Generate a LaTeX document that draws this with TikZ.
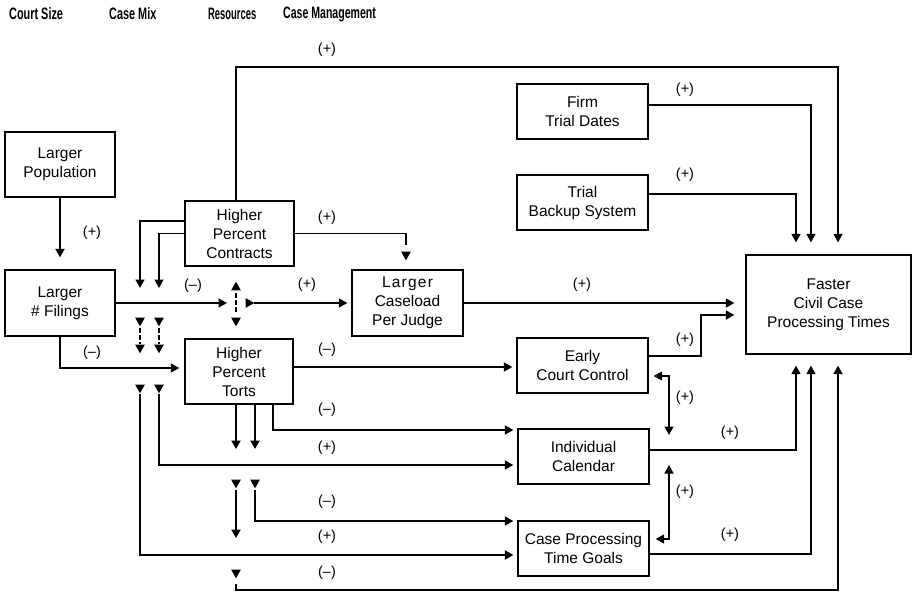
\documentclass[tikz,border=0pt]{standalone}
\usepackage{fontspec}
\setmainfont{Liberation Sans}
\usepackage{graphicx}
\usetikzlibrary{arrows.meta,calc}
\tikzset{
 box/.style={draw, line width=1.3pt, align=center, inner sep=0pt, font=\fontsize{15.5}{19}\selectfont},
 ln/.style={line width=1.5pt},
 thk/.style={line width=2.4pt},
 arr/.style={-{Triangle[length=8.5pt,width=9pt]}},
 darr/.style={{Triangle[length=8.5pt,width=9pt]}-{Triangle[length=8.5pt,width=9pt]}},
 dsh/.style={line width=2pt, dash pattern=on 4.5pt off 2.5pt},
 lbl/.style={font=\fontsize{14.5}{16}\selectfont, inner sep=0pt},
 hdr/.style={font=\fontsize{16.5}{18}\selectfont\bfseries, anchor=west, inner sep=0pt},
 tridown/.pic={\fill (-4.8,-4.3) -- (4.8,-4.3) -- (0,4.3) -- cycle;},
 triup/.pic={\fill (-4.8,4.3) -- (4.8,4.3) -- (0,-4.3) -- cycle;},
 triright/.pic={\fill (-4.3,-4.8) -- (-4.3,4.8) -- (4.3,0) -- cycle;},
}
\begin{document}
\begin{tikzpicture}[x=1pt,y=-1pt]
\path[use as bounding box] (0,0) rectangle (917,592);

% headers
\node[hdr] (h1) at (9,14) {\scalebox{0.66}[1]{Court Size}};
\node[hdr] (h2) at (109,14) {\scalebox{0.66}[1]{Case Mix}};
\node[hdr] (h3) at (208,14) {\scalebox{0.57}[1]{Resources}};
\node[hdr] (h4) at (283,14) {\scalebox{0.64}[1]{Case Management}};

% lanes
\coordinate (xA) at (140,0);
\coordinate (xB) at (159,0);
\coordinate (xC) at (236,0);
\coordinate (xD) at (255,0);
\coordinate (xE) at (273,0);
\coordinate (xF) at (406,0);
\coordinate (xG) at (669,0);
\coordinate (xI) at (796,0);
\coordinate (xJ) at (811,0);
\coordinate (xK) at (838,0);

% boxes
\node[box, minimum width=110pt, minimum height=65pt] (pop) at (60,164.5) {Larger\\Population};
\node[box, minimum width=110pt, minimum height=66pt] (fil) at (60,303) {Larger\\\# Filings};
\node[box, minimum width=109pt, minimum height=65pt] (con) at (239.5,233.5) {Higher\\Percent\\Contracts};
\node[box, minimum width=108pt, minimum height=65pt] (tor) at (239,371.5) {Higher\\Percent\\Torts};
\node[box, minimum width=111pt, minimum height=66pt] (cas) at (407.5,303) {{\addfontfeature{LetterSpace=8}Larger}\\Caseload\\Per Judge};
\node[box, minimum width=131pt, minimum height=55pt] (firm) at (582.5,111.5) {Firm\\Trial Dates};
\node[box, minimum width=131pt, minimum height=55pt] (tbs) at (582.5,202.5) {Trial\\Backup System};
\node[box, minimum width=131pt, minimum height=55pt] (ecc) at (582.5,365.5) {Early\\Court Control};
\node[box, minimum width=131pt, minimum height=55pt] (ic) at (583.5,456.5) {Individual\\Calendar};
\node[box, minimum width=131pt, minimum height=55pt] (cptg) at (583.5,548.5) {Case Processing\\Time Goals};
\node[box, minimum width=165pt, minimum height=99pt] (fast) at (828.5,304.5) {Faster\\Civil Case\\Processing Times};

% population -> filings
\draw[thk,arr,shorten >=12pt] (pop.south) -- (fil.north);
% contracts top -> faster
\draw[ln,arr,shorten >=12pt] (con.north -| xC) |- (838,67) -- (fast.north -| xK);
% firm, backup -> faster
\draw[ln,arr,shorten >=12pt] ([yshift=6.5pt]firm.east) -| (fast.north -| xJ);
\draw[ln,arr,shorten >=12pt] ([yshift=8.5pt]tbs.east) -| (fast.north -| xI);
% contracts -> caseload (moderator)
\coordinate (cm) at (406,245);
\draw[ln] (con.east) -| (cm);
\pic (t0) at (406,256) {tridown};
% contracts left
\draw[ln,arr] ([yshift=12.5pt]con.west) -| (140,288);
\draw[ln,arr] (con.west) -| (159,288);
% filings -> cluster
\coordinate (gin) at (227,303);
\draw[ln,arr] (fil.east) -- (gin);
% cluster G
\pic (g1) at (236,286) {triup};
\draw[dsh] (236,293) -- (236,313);
\pic (g2) at (236,322) {tridown};
\pic (g3) at (250,303) {triright};
\coordinate (gout) at (254,303);
\draw[ln,arr,shorten >=4pt] (gout) -- (cas.west);
% cluster H
\pic (h1t) at (140,322) {tridown};
\pic (h2t) at (159,322) {tridown};
\draw[dsh] (140,328) -- (140,344);
\draw[dsh] (159,328) -- (159,344);
\pic (h1b) at (140,349) {tridown};
\pic (h2b) at (159,349) {tridown};
% filings -> torts
\draw[ln,arr,shorten >=5pt] (fil.south) |- ([yshift=3.5pt]tor.west);
% torts -> ecc
\draw[ln,arr,shorten >=4pt] ([yshift=4.5pt]tor.east) -- ([yshift=4.5pt]tor.east -| ecc.west);
% torts bottom
\draw[thk,arr] (tor.south -| xC) -- (236,449);
\draw[thk,arr] (tor.south -| xD) -- (255,449);
\draw[ln,arr,shorten >=4pt] (tor.south -| xE) |- ([yshift=26.5pt]ic.west);
% lanes 140 / 159
\pic (k1) at (140,389) {tridown};
\pic (k2) at (159,389) {tridown};
\coordinate (k1s) at (140,394);
\coordinate (k2s) at (159,394);
\draw[ln,arr,shorten >=4pt] (k2s) |- ([yshift=-8.5pt]ic.west);
\draw[thk,arr,shorten >=4pt] (k1s) |- ([yshift=-6.5pt]cptg.west);
% lanes 236 / 255 lower
\pic (m1) at (236,484) {tridown};
\pic (m2) at (255,484) {tridown};
\coordinate (m1s) at (236,490);
\coordinate (m1e) at (236,538);
\coordinate (m2s) at (255,490);
\draw[thk,arr] (m1s) -- (m1e);
\draw[ln,arr,shorten >=4pt] (m2s) |- ([yshift=27.5pt]cptg.west);
% bottom
\pic (n1) at (236,574) {tridown};
\coordinate (n1s) at (236,584);
\draw[thk,arr,shorten >=11pt] (n1s) |- (838,590) -- (fast.south -| xK);
% ecc -> faster
\draw[thk,arr,shorten >=11pt] ([yshift=9.5pt]ecc.east) -| (701,315) -- ([yshift=-10.5pt]fast.west);
% caseload -> faster
\draw[ln,arr,shorten >=11pt] (cas.east) -- (cas.east -| fast.west);
% ecc <-> ic line
\coordinate (q1) at (669,435);
\draw[ln,darr,shorten <=5pt] ([yshift=-10.5pt]ecc.east) -| (q1);
% ic line <-> cptg
\coordinate (q2) at (669,465);
\draw[ln,darr,shorten >=6pt] (q2) |- ([yshift=9.5pt]cptg.east);
% ic, cptg -> faster
\draw[ln,arr,shorten >=11pt] ([yshift=6.5pt]ic.east) -| (fast.south -| xI);
\draw[ln,arr,shorten >=11pt] ([yshift=-5.5pt]cptg.east) -| (fast.south -| xJ);

% labels
\node[lbl] (l1) at (327,50) {(+)};
\node[lbl] (l2) at (685,90) {(+)};
\node[lbl] (l3) at (685,175) {(+)};
\node[lbl] (l4) at (327,218) {(+)};
\node[lbl] (l5) at (92,233) {(+)};
\node[lbl] (l6) at (193,286) {(--)};
\node[lbl] (l7) at (307,285) {(+)};
\node[lbl] (l8) at (582,285) {(+)};
\node[lbl] (l9) at (685,340) {(+)};
\node[lbl] (l10) at (92,353) {(--)};
\node[lbl] (l11) at (327,350) {(--)};
\node[lbl] (l12) at (685,398) {(+)};
\node[lbl] (l13) at (327,410) {(--)};
\node[lbl] (l14) at (730,433) {(+)};
\node[lbl] (l15) at (327,448) {(+)};
\node[lbl] (l16) at (685,492) {(+)};
\node[lbl] (l17) at (327,502) {(--)};
\node[lbl] (l18) at (730,535) {(+)};
\node[lbl] (l19) at (327,537) {(+)};
\node[lbl] (l20) at (327,573) {(--)};
\end{tikzpicture}
\end{document}
